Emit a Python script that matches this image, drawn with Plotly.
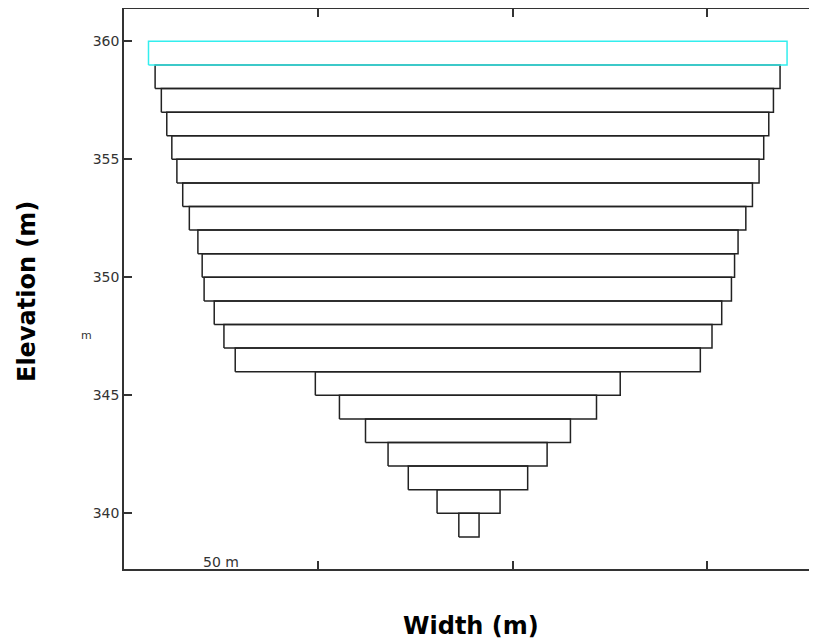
import plotly.graph_objects as go

# Layer bottom elevations (m); each layer spans elev .. elev+1
elevations = [339, 340, 341, 342, 343, 344, 345, 346, 347, 348, 349, 350,
              351, 352, 353, 354, 355, 356, 357, 358, 359]
# Left and right edge of each layer (m)
left_edges = [86.1, 80.5, 73.1, 67.9, 62.1, 55.4, 49.2, 28.6, 25.7, 23.2, 20.6, 20.1,
              19.0, 16.8, 15.1, 13.6, 12.3, 11.0, 9.6, 8.0, 6.3]
right_edges = [91.3, 96.7, 103.8, 108.8, 114.8, 121.5, 127.6, 148.2, 151.2, 153.7, 156.2, 157.0,
               157.9, 159.9, 161.6, 163.3, 164.5, 165.8, 167.0, 168.7, 170.5]
layer_colors = ["#222222"] * 20 + ["#33EEEE"]

y_ticks = [340, 345, 350, 355, 360]
x_ticks = [50, 100, 150]

# page offset of the figure (body margin)
OFF = 8
W, H = 817 - OFF, 644 - OFF
L, T, B = 124 - OFF, 9 - OFF, 75
PW, PH = W - L, H - T - B


def px_x(p):
    return (p - OFF - L) / PW


def px_y(p):
    return (H - B - (p - OFF)) / PH


fig = go.Figure()
for e, l, r, c in zip(elevations, left_edges, right_edges, layer_colors):
    fig.add_trace(go.Scatter(
        x=[l, r, r, l, l], y=[e, e, e + 1, e + 1, e],
        mode="lines", line=dict(color=c, width=1.5),
        showlegend=False, hoverinfo="skip"))

fig.update_layout(
    width=W, height=H,
    margin=dict(l=L, r=0, t=T, b=B),
    plot_bgcolor="white", paper_bgcolor="white",
    font=dict(family="DejaVu Sans, Verdana, sans-serif", size=12, color="#333333"),
    xaxis=dict(range=[0, 178.2], tickvals=x_ticks, showticklabels=False,
               ticks="inside", ticklen=8, tickcolor="#333333", tickwidth=1.5,
               showline=True, linecolor="#333333", linewidth=1.5, mirror="ticks",
               showgrid=False, zeroline=False),
    yaxis=dict(range=[337.64, 361.37], tickvals=y_ticks,
               ticks="inside", ticklen=8, tickcolor="#333333", tickwidth=1.5,
               showline=True, linecolor="#333333", linewidth=1.5, mirror=False,
               showgrid=False, zeroline=False,
               tickfont=dict(size=14, color="#333333")),
    annotations=[
        dict(text="<b>Elevation (m)</b>", xref="paper", yref="paper",
             x=px_x(27), y=px_y(292), textangle=-90,
             showarrow=False, xanchor="center", yanchor="middle",
             font=dict(size=24, color="black")),
        dict(text="<b>Width (m)</b>", xref="paper", yref="paper",
             x=px_x(471), y=px_y(626),
             showarrow=False, xanchor="center", yanchor="middle",
             font=dict(size=24, color="black")),
        dict(text="m", xref="paper", yref="paper",
             x=px_x(86), y=px_y(336),
             showarrow=False, xanchor="center", yanchor="middle",
             font=dict(size=11, color="#333333")),
        dict(text="50 m", xref="paper", yref="paper",
             x=px_x(221), y=px_y(562),
             showarrow=False, xanchor="center", yanchor="middle",
             font=dict(size=14, color="#333333")),
    ],
)

fig.write_html("out.html")
